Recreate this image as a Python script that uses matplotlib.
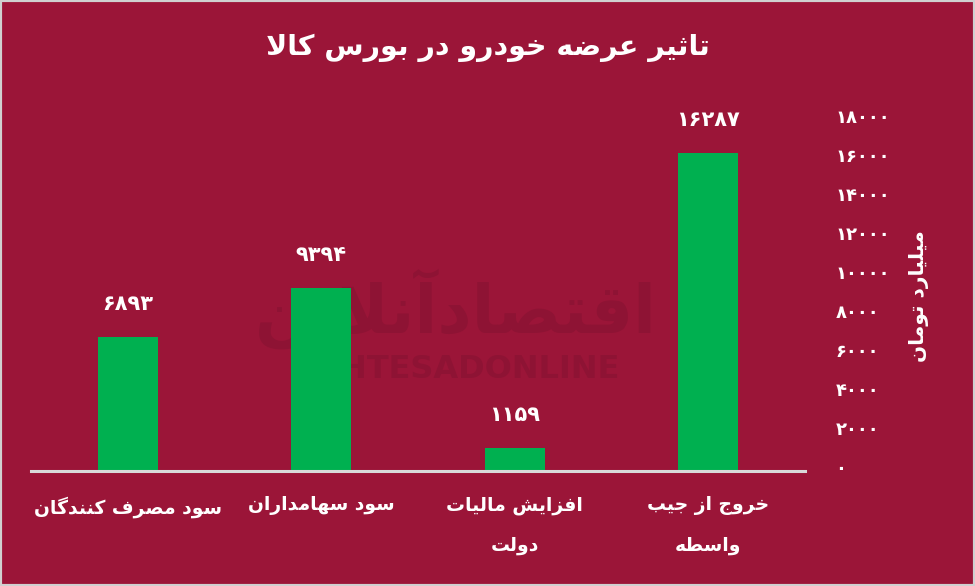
import matplotlib
matplotlib.use("Agg")
import matplotlib.pyplot as plt
from matplotlib.ticker import FuncFormatter, MultipleLocator
from matplotlib.patches import Rectangle
from matplotlib.transforms import offset_copy

# ====================================================
# DATA
# ====================================================

categories = [
    "سود مصرف کنندگان",
    "سود سهامداران",
    "افزایش مالیات\nدولت",
    "خروج از جیب\nواسطه",
]

values = [6893, 9394, 1159, 16287]

title = "تاثیر عرضه خودرو در بورس کالا"
y_label = "میلیارد تومان"
y_max = 18000
y_step = 2000

BG = "#9B1538"
GREEN = "#00B050"
MARK = "#8E1334"

# ====================================================
# ARABIC SHAPING (no reshaper lib available)
# ====================================================

# isolated, final, initial, medial
FORMS = {
    "ا": ("\uFE8D", "\uFE8E"),
    "آ": ("\uFE81", "\uFE82"),
    "ب": ("\uFE8F", "\uFE90", "\uFE91", "\uFE92"),
    "ت": ("\uFE95", "\uFE96", "\uFE97", "\uFE98"),
    "ث": ("\uFE99", "\uFE9A", "\uFE9B", "\uFE9C"),
    "ج": ("\uFE9D", "\uFE9E", "\uFE9F", "\uFEA0"),
    "خ": ("\uFEA5", "\uFEA6", "\uFEA7", "\uFEA8"),
    "د": ("\uFEA9", "\uFEAA"),
    "ر": ("\uFEAD", "\uFEAE"),
    "ز": ("\uFEAF", "\uFEB0"),
    "س": ("\uFEB1", "\uFEB2", "\uFEB3", "\uFEB4"),
    "ش": ("\uFEB5", "\uFEB6", "\uFEB7", "\uFEB8"),
    "ص": ("\uFEB9", "\uFEBA", "\uFEBB", "\uFEBC"),
    "ض": ("\uFEBD", "\uFEBE", "\uFEBF", "\uFEC0"),
    "ط": ("\uFEC1", "\uFEC2", "\uFEC3", "\uFEC4"),
    "ع": ("\uFEC9", "\uFECA", "\uFECB", "\uFECC"),
    "ف": ("\uFED1", "\uFED2", "\uFED3", "\uFED4"),
    "ق": ("\uFED5", "\uFED6", "\uFED7", "\uFED8"),
    "ل": ("\uFEDD", "\uFEDE", "\uFEDF", "\uFEE0"),
    "م": ("\uFEE1", "\uFEE2", "\uFEE3", "\uFEE4"),
    "ن": ("\uFEE5", "\uFEE6", "\uFEE7", "\uFEE8"),
    "ه": ("\uFEE9", "\uFEEA", "\uFEEB", "\uFEEC"),
    "و": ("\uFEED", "\uFEEE"),
    "ی": ("\uFBFC", "\uFBFD", "\uFBFE", "\uFBFF"),
    "ک": ("\uFB8E", "\uFB8F", "\uFB90", "\uFB91"),
    "گ": ("\uFB92", "\uFB93", "\uFB94", "\uFB95"),
}

LAM_ALEF = ("\uFEFB", "\uFEFC")


def shape_line(line):
    out = []
    i = 0
    n = len(line)
    while i < n:
        ch = line[i]
        if ch not in FORMS:
            out.append(ch)
            i += 1
            continue
        prev = line[i - 1] if i > 0 else ""
        prev_joins = prev in FORMS and len(FORMS[prev]) == 4
        if ch == "ل" and i + 1 < n and line[i + 1] == "ا":
            out.append(LAM_ALEF[1] if prev_joins else LAM_ALEF[0])
            i += 2
            continue
        forms = FORMS[ch]
        nxt = line[i + 1] if i + 1 < n else ""
        next_joins = len(forms) == 4 and nxt in FORMS
        if prev_joins and next_joins:
            out.append(forms[3])
        elif prev_joins:
            out.append(forms[1])
        elif next_joins:
            out.append(forms[2])
        else:
            out.append(forms[0])
        i += 1
    return "".join(reversed(out))


def fa(text):
    return "\n".join(shape_line(l) for l in text.split("\n"))


def fa_num(v):
    return str(int(v)).translate(str.maketrans("0123456789", "۰۱۲۳۴۵۶۷۸۹"))


# ====================================================
# FIGURE
# ====================================================

plt.rcParams["font.family"] = ["DejaVu Sans"]

fig = plt.figure(
    figsize=(9.75, 5.86),
    dpi=100,
    facecolor=BG
)

fig.patches.append(
    Rectangle(
        (0, 0), 1, 1,
        transform=fig.transFigure,
        facecolor="none",
        edgecolor="#D0D0D0",
        linewidth=3
    )
)

ax = fig.add_axes([0.0318, 0.1962, 0.7938, 0.599])
ax.set_facecolor(BG)

x = list(range(len(categories)))

ax.bar(
    x,
    values,
    width=0.31,
    color=GREEN,
    zorder=3
)

for xi, v in zip(x, values):
    ax.annotate(
        fa_num(v),
        (xi, v),
        xytext=(0, 33),
        textcoords="offset pixels",
        ha="center",
        va="center",
        color="white",
        fontsize=15,
        fontweight="bold",
        zorder=4
    )

ax.set_xlim(-0.5, len(categories) - 0.5)
ax.set_ylim(0, y_max)

# ====================================================
# AXES STYLE
# ====================================================

for side in ["top", "left", "right"]:
    ax.spines[side].set_visible(False)

ax.spines["bottom"].set_color("#D9D9D9")
ax.spines["bottom"].set_linewidth(2.2)
ax.spines["bottom"].set_zorder(5)

ax.yaxis.tick_right()
ax.yaxis.set_major_locator(MultipleLocator(y_step))
ax.yaxis.set_major_formatter(FuncFormatter(lambda v, p: fa_num(v)))
ax.tick_params(axis="y", length=0, pad=22, colors="white", labelsize=13)
fig.canvas.draw()
for lab in ax.get_yticklabels():
    lab.set_fontweight("bold")
    lab.set_transform(offset_copy(lab.get_transform(), fig=fig, y=4, units="dots"))

ax.set_xticks([])

for xi, c in zip(x, categories):
    ax.annotate(
        fa(c),
        (xi, 0),
        xytext=(0, -25),
        textcoords="offset pixels",
        ha="center",
        va="top",
        color="white",
        fontsize=13.5,
        fontweight="bold",
        linespacing=2.35,
        annotation_clip=False
    )

fig.text(
    0.943,
    0.495,
    fa(y_label),
    rotation=90,
    ha="center",
    va="center",
    color="white",
    fontsize=14.5,
    fontweight="bold"
)

# ====================================================
# TITLE
# ====================================================

fig.text(
    0.5,
    0.918,
    fa(title),
    ha="center",
    va="center",
    color="white",
    fontsize=20.5,
    fontweight="bold"
)

# ====================================================
# WATERMARK
# ====================================================

ax.text(
    0.467,
    0.474,
    fa("اقتصادآنلاین"),
    transform=fig.transFigure,
    ha="center",
    va="center",
    color=MARK,
    fontsize=48,
    fontweight="bold",
    zorder=1
)

ax.text(
    0.467,
    0.37,
    "EGHTESADONLINE",
    transform=fig.transFigure,
    ha="center",
    va="center",
    color=MARK,
    fontsize=23,
    fontweight="bold",
    zorder=1
)

fig.savefig(
    "out.png",
    dpi=100,
    facecolor=BG
)

plt.close()
